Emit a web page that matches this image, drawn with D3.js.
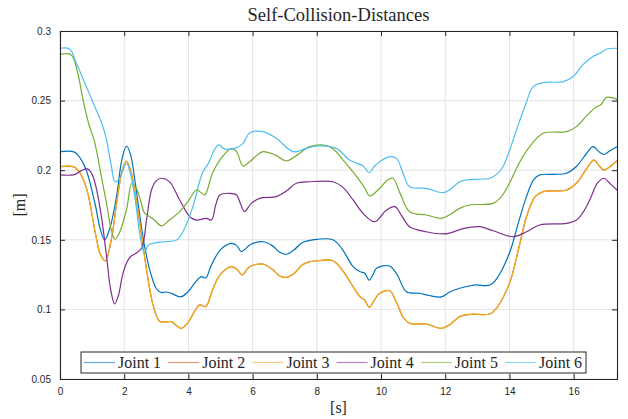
<!DOCTYPE html>
<html>
<head>
<meta charset="utf-8">
<script src="https://cdn.jsdelivr.net/npm/d3@7"></script>
<style>
  body { margin: 0; background: #fff; }
  svg text { fill: #262626; }
</style>
</head>
<body>
<svg width="628" height="419"></svg>
<script>
// series names and colours (matlab default order)
const jointNames = ["Joint 1", "Joint 2", "Joint 3", "Joint 4", "Joint 5", "Joint 6"];
const jointColors = ["#0072BD", "#D95319", "#EDB120", "#7E2F8E", "#77AC30", "#4DBEEE"];
const xTicks = [0, 2, 4, 6, 8, 10, 12, 14, 16];
const yTicks = [0.05, 0.1, 0.15, 0.2, 0.25, 0.3];

// [time s, distance m]
const joint1 = [[0,0.2133],[0.45,0.2130],[0.65,0.208],[0.82,0.200],[1.1,0.175],[1.25,0.158],[1.39,0.150],[1.55,0.158],[1.76,0.181],[1.93,0.208],[2.07,0.2174],[2.2,0.211],[2.33,0.193],[2.47,0.170],[2.6,0.150],[2.8,0.128],[3.0,0.115],[3.16,0.112],[3.3,0.1125],[3.47,0.1115],[3.76,0.109],[4.0,0.113],[4.2,0.119],[4.4,0.1235],[4.54,0.1226],[4.7,0.131],[4.92,0.1405],[5.1,0.145],[5.34,0.1475],[5.5,0.146],[5.65,0.1415],[5.8,0.144],[5.91,0.1463],[6.33,0.1486],[6.6,0.146],[6.85,0.141],[7.05,0.1396],[7.3,0.143],[7.55,0.148],[7.88,0.150],[8.5,0.150],[8.8,0.143],[9.13,0.1307],[9.35,0.127],[9.49,0.126],[9.63,0.121],[9.75,0.125],[9.86,0.1295],[10.27,0.1312],[10.5,0.125],[10.79,0.1127],[11.2,0.1116],[11.5,0.110],[11.88,0.109],[12.14,0.1125],[12.45,0.1152],[12.9,0.1175],[13.39,0.1175],[13.6,0.122],[14.0,0.1405],[14.3,0.164],[14.53,0.181],[14.75,0.193],[14.94,0.1966],[15.4,0.197],[15.78,0.1978],[16.1,0.203],[16.4,0.212],[16.6,0.2169],[16.8,0.213],[16.94,0.2114],[17.1,0.2135],[17.35,0.2169]];
const joint2 = [[0,0.2025],[0.45,0.2022],[0.65,0.197],[0.85,0.185],[1.1,0.155],[1.25,0.140],[1.41,0.1348],[1.58,0.148],[1.8,0.182],[1.95,0.201],[2.07,0.2066],[2.2,0.200],[2.35,0.182],[2.5,0.160],[2.7,0.128],[2.9,0.103],[3.1,0.0915],[3.3,0.091],[3.47,0.0912],[3.65,0.088],[3.78,0.0864],[4.0,0.091],[4.2,0.099],[4.35,0.1032],[4.54,0.102],[4.75,0.114],[4.98,0.1247],[5.34,0.1307],[5.5,0.129],[5.68,0.1247],[5.8,0.128],[5.91,0.1307],[6.32,0.1326],[6.6,0.129],[6.85,0.124],[7.05,0.123],[7.3,0.126],[7.55,0.132],[7.78,0.1343],[8.04,0.135],[8.5,0.135],[8.8,0.128],[9.13,0.1163],[9.35,0.109],[9.49,0.1068],[9.63,0.1015],[9.8,0.107],[9.96,0.1116],[10.27,0.1134],[10.5,0.104],[10.7,0.094],[10.9,0.090],[11.41,0.0895],[11.88,0.0864],[12.14,0.089],[12.45,0.0948],[12.8,0.0965],[13.39,0.0967],[13.6,0.101],[14.0,0.1187],[14.3,0.145],[14.53,0.1666],[14.8,0.181],[15.05,0.1846],[15.78,0.1858],[16.1,0.191],[16.4,0.201],[16.63,0.2073],[16.8,0.203],[16.94,0.2001],[17.1,0.202],[17.35,0.2068]];
const joint3 = [[0,0.2025],[0.45,0.2022],[0.65,0.197],[0.85,0.185],[1.1,0.155],[1.25,0.140],[1.41,0.1348],[1.58,0.148],[1.8,0.182],[1.95,0.201],[2.07,0.2066],[2.2,0.200],[2.35,0.182],[2.5,0.160],[2.7,0.128],[2.9,0.103],[3.1,0.0915],[3.3,0.091],[3.47,0.0912],[3.65,0.088],[3.78,0.0864],[4.0,0.091],[4.2,0.099],[4.35,0.1032],[4.54,0.102],[4.75,0.114],[4.98,0.1247],[5.34,0.1307],[5.5,0.129],[5.68,0.1247],[5.8,0.128],[5.91,0.1307],[6.32,0.1326],[6.6,0.129],[6.85,0.124],[7.05,0.123],[7.3,0.126],[7.55,0.132],[7.78,0.1343],[8.04,0.135],[8.5,0.135],[8.8,0.128],[9.13,0.1163],[9.35,0.109],[9.49,0.1068],[9.63,0.1015],[9.8,0.107],[9.96,0.1116],[10.27,0.1134],[10.5,0.104],[10.7,0.094],[10.9,0.090],[11.41,0.0895],[11.88,0.0864],[12.14,0.089],[12.45,0.0948],[12.8,0.0965],[13.39,0.0967],[13.6,0.101],[14.0,0.1187],[14.3,0.145],[14.53,0.1666],[14.8,0.181],[15.05,0.1846],[15.78,0.1858],[16.1,0.191],[16.4,0.201],[16.63,0.2073],[16.8,0.203],[16.94,0.2001],[17.1,0.202],[17.35,0.2068]];
const joint4 = [[0,0.1966],[0.45,0.1968],[0.65,0.1995],[0.85,0.2009],[1.0,0.197],[1.15,0.185],[1.3,0.165],[1.45,0.138],[1.58,0.114],[1.7,0.1039],[1.82,0.110],[1.95,0.125],[2.07,0.1331],[2.2,0.138],[2.33,0.1398],[2.54,0.1439],[2.7,0.165],[2.85,0.1858],[3.0,0.1925],[3.16,0.1942],[3.4,0.192],[3.73,0.1786],[4.04,0.1666],[4.25,0.1642],[4.56,0.1654],[4.72,0.1642],[4.85,0.175],[4.98,0.1822],[5.29,0.1834],[5.5,0.1822],[5.62,0.176],[5.75,0.1702],[5.95,0.176],[6.22,0.1798],[6.74,0.181],[7.05,0.185],[7.36,0.1906],[7.78,0.1917],[8.5,0.1917],[8.8,0.188],[9.13,0.1786],[9.44,0.169],[9.8,0.163],[10.17,0.1714],[10.43,0.1738],[10.65,0.167],[10.89,0.1594],[11.41,0.1558],[11.93,0.1542],[12.14,0.1548],[12.55,0.158],[13.08,0.1594],[13.49,0.1565],[14.11,0.1522],[14.53,0.1558],[14.94,0.1606],[15.78,0.1618],[16.09,0.1642],[16.3,0.170],[16.5,0.1786],[16.75,0.191],[16.94,0.1942],[17.15,0.190],[17.35,0.1858]];
const joint5 = [[0,0.2833],[0.35,0.2828],[0.55,0.270],[0.72,0.2504],[0.9,0.233],[1.08,0.220],[1.29,0.1953],[1.45,0.176],[1.6,0.157],[1.71,0.1504],[1.85,0.155],[2.07,0.1714],[2.24,0.1906],[2.38,0.187],[2.5,0.179],[2.64,0.169],[2.79,0.1668],[2.95,0.164],[3.16,0.160],[3.4,0.164],[3.73,0.1702],[4.0,0.178],[4.25,0.1858],[4.4,0.1838],[4.51,0.1822],[4.75,0.198],[4.98,0.2073],[5.34,0.2157],[5.5,0.2133],[5.7,0.203],[5.91,0.2061],[6.1,0.210],[6.32,0.2133],[6.7,0.211],[7.05,0.2068],[7.4,0.211],[7.78,0.2169],[8.4,0.2169],[8.82,0.2073],[9.28,0.1942],[9.5,0.187],[9.65,0.1815],[9.96,0.187],[10.2,0.193],[10.37,0.1942],[10.6,0.183],[10.89,0.1702],[11.41,0.1678],[11.88,0.1654],[12.14,0.168],[12.45,0.1726],[12.76,0.175],[13.49,0.1762],[13.75,0.181],[14.0,0.1906],[14.3,0.205],[14.63,0.2169],[15.05,0.2265],[15.78,0.2277],[16.09,0.2313],[16.4,0.239],[16.71,0.2456],[16.85,0.247],[17.02,0.2523],[17.35,0.2511]];
const joint6 = [[0,0.2876],[0.3,0.287],[0.51,0.2768],[0.82,0.26],[1.13,0.2433],[1.3,0.234],[1.45,0.2217],[1.6,0.203],[1.71,0.1917],[1.85,0.194],[2.07,0.205],[2.2,0.197],[2.33,0.181],[2.5,0.152],[2.62,0.1407],[2.75,0.146],[2.9,0.1475],[3.26,0.1486],[3.63,0.1498],[3.83,0.1558],[4.14,0.1738],[4.35,0.192],[4.45,0.1989],[4.6,0.204],[4.87,0.2169],[4.98,0.2181],[5.08,0.2157],[5.44,0.2157],[5.7,0.2193],[5.91,0.2269],[6.32,0.2277],[6.74,0.2229],[7.26,0.2133],[7.68,0.2157],[7.99,0.2174],[8.61,0.2157],[9.02,0.2073],[9.44,0.203],[9.63,0.1982],[9.8,0.203],[9.96,0.2061],[10.27,0.2097],[10.48,0.2085],[10.7,0.197],[10.89,0.1881],[11.41,0.187],[11.93,0.1838],[12.14,0.186],[12.45,0.1917],[12.66,0.193],[13.39,0.1942],[13.6,0.197],[13.8,0.2025],[14.0,0.214],[14.22,0.2289],[14.5,0.247],[14.74,0.26],[15.05,0.2629],[15.67,0.2636],[15.98,0.2672],[16.3,0.276],[16.6,0.2816],[16.81,0.284],[17.02,0.2869],[17.35,0.2876]];
const joints = [joint1, joint2, joint3, joint4, joint5, joint6];

var svg = d3.select("svg"),
    W = +svg.attr("width"),
    H = +svg.attr("height");
var m = {left: 60, top: 31, right: 11, bottom: 40};
var w = W - m.left - m.right, h = H - m.top - m.bottom;

var x = d3.scaleLinear().domain([0, 17.35]).range([0, w]);
var y = d3.scaleLinear().domain([0.05, 0.3]).range([h, 0]);

var g = svg.append("g").attr("transform", "translate(" + m.left + "," + m.top + ")");

// grid
g.append("g").selectAll("line").data(xTicks).enter().append("line")
  .attr("x1", d => x(d)).attr("x2", d => x(d)).attr("y1", 0).attr("y2", h)
  .attr("stroke", "#e3e3e3");
g.append("g").selectAll("line").data(yTicks).enter().append("line")
  .attr("y1", d => y(d)).attr("y2", d => y(d)).attr("x1", 0).attr("x2", w)
  .attr("stroke", "#e3e3e3");

// curves
var line = d3.line().x(d => x(d[0])).y(d => y(d[1])).curve(d3.curveCatmullRom.alpha(0.5));
g.append("g").selectAll("path").data(joints).enter().append("path")
  .attr("d", line)
  .attr("fill", "none")
  .attr("stroke", (d, i) => jointColors[i])
  .attr("stroke-width", 1.2);

// axes, ticks pointing inward, box all round
var fmt = d => d3.format("")(+d.toFixed(2));
var xB = g.append("g").attr("transform", "translate(0," + h + ")")
  .call(d3.axisBottom(x).tickValues(xTicks).tickSize(-5).tickPadding(9).tickFormat(fmt));
var xT = g.append("g").call(d3.axisTop(x).tickValues(xTicks).tickSize(-5).tickFormat(""));
var yL = g.append("g")
  .call(d3.axisLeft(y).tickValues(yTicks).tickSize(-5).tickPadding(9).tickFormat(fmt));
var yR = g.append("g").attr("transform", "translate(" + w + ",0)")
  .call(d3.axisRight(y).tickValues(yTicks).tickSize(-5).tickFormat(""));
[xB, xT, yL, yR].forEach(a => {
  a.select(".domain").attr("stroke", "#262626").attr("stroke-width", 1.1);
  a.selectAll(".tick line").attr("stroke", "#262626");
  a.selectAll("text").attr("font-family", "Liberation Sans, Arial, sans-serif")
    .attr("font-size", 10).attr("fill", "#262626");
});

// title and labels
svg.append("text").attr("x", m.left + w / 2).attr("y", 21)
  .attr("text-anchor", "middle").attr("font-family", "Liberation Serif, serif")
  .attr("font-size", 18.5).text("Self-Collision-Distances");
svg.append("text").attr("x", m.left + w / 2).attr("y", 413)
  .attr("text-anchor", "middle").attr("font-family", "Liberation Serif, serif")
  .attr("font-size", 16).text("[s]");
svg.append("text").attr("transform", "translate(25," + (m.top + h / 2) + ") rotate(-90)")
  .attr("text-anchor", "middle").attr("font-family", "Liberation Serif, serif")
  .attr("font-size", 16).text("[m]");

// legend
var lg = svg.append("g").attr("transform", "translate(81,352)");
lg.append("rect").attr("width", 505).attr("height", 21)
  .attr("fill", "#fff").attr("stroke", "#262626").attr("stroke-width", 1);
var item = lg.selectAll(".item").data(jointNames).enter().append("g")
  .attr("transform", (d, i) => "translate(" + (3 + i * 84.2) + ",0)");
item.append("line").attr("x1", 0).attr("x2", 31).attr("y1", 10.5).attr("y2", 10.5)
  .attr("stroke", (d, i) => jointColors[i]).attr("stroke-opacity", 0.6).attr("stroke-width", 1.2);
item.append("text").attr("x", 34).attr("y", 15.5)
  .attr("font-family", "Liberation Serif, serif").attr("font-size", 16)
  .text(d => d);
</script>
</body>
</html>
